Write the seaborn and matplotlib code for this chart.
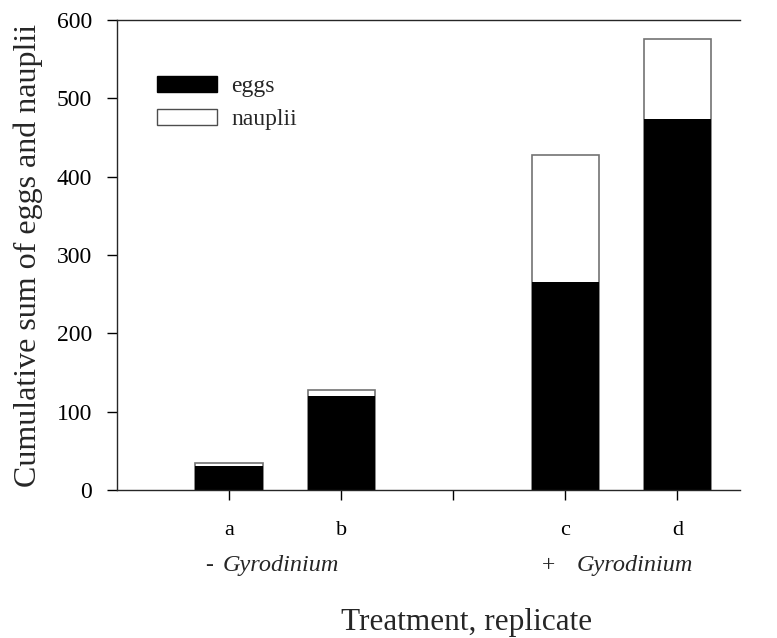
import pandas as pd
import seaborn as sns
import matplotlib.pyplot as plt
from matplotlib.patches import Patch

replicates = ['a', 'b', 'c', 'd']
positions = [0, 1, 3, 4]
eggs = [31, 120, 266, 473]
nauplii = [4, 7, 162, 103]

df = pd.DataFrame({'replicate': replicates, 'pos': positions,
                   'eggs': eggs, 'nauplii': nauplii})
df['total'] = df['eggs'] + df['nauplii']

sns.set_style('ticks')
plt.rcParams['font.family'] = ['Liberation Serif', 'DejaVu Serif']

fig = plt.figure(figsize=(7.77, 6.38), dpi=100)
ax = fig.add_axes([0.1506, 0.232, 0.8018, 0.7368])

sns.barplot(data=df, x='pos', y='total', native_scale=True, width=0.6,
            color='white', edgecolor='0.45', linewidth=1.2, ax=ax)
sns.barplot(data=df, x='pos', y='eggs', native_scale=True, width=0.6,
            color='black', edgecolor='black', linewidth=0, ax=ax)

ax.set_xlim(-1.0, 4.56)
ax.set_ylim(0, 600)
ax.set_yticks(range(0, 601, 100))
ax.set_xticks([0, 1, 2, 3, 4])
ax.set_xticklabels(['a', 'b', '', 'c', 'd'])
ax.tick_params(axis='both', direction='out', length=7, width=1, colors='black')
ax.tick_params(axis='y', labelsize=17, pad=11)
ax.tick_params(axis='x', labelsize=16, pad=15)

for side in ['left', 'bottom', 'top']:
    ax.spines[side].set_color('0.15')
    ax.spines[side].set_linewidth(1)
ax.spines['right'].set_visible(False)

ax.set_xlabel('')
ax.set_ylabel('Cumulative sum of eggs and nauplii', fontsize=23)
ax.yaxis.set_label_coords(-0.119, 0.5)

# group labels under the replicate letters
xt = ax.get_xaxis_transform()
ax.text(-0.14, -0.172, '-', transform=xt, ha='right', va='baseline', fontsize=17)
ax.text(-0.056, -0.172, 'Gyrodinium', transform=xt, ha='left', va='baseline',
        fontsize=17.5, style='italic')
ax.text(2.91, -0.172, '+', transform=xt, ha='right', va='baseline', fontsize=17)
ax.text(3.10, -0.172, 'Gyrodinium', transform=xt, ha='left', va='baseline',
        fontsize=17.5, style='italic')
fig.text(0.6, 0.025, 'Treatment, replicate', ha='center', va='center', fontsize=22.5)

handles = [Patch(facecolor='black', edgecolor='black', label='eggs'),
           Patch(facecolor='white', edgecolor='0.3', label='nauplii')]
ax.legend(handles=handles, loc='upper left', bbox_to_anchor=(0.064, 0.88),
          frameon=False, fontsize=17, handlelength=2.55, handleheight=0.65,
          handletextpad=0.6, labelspacing=0.5, borderpad=0, borderaxespad=0)

fig.savefig('out.png', dpi=100)
